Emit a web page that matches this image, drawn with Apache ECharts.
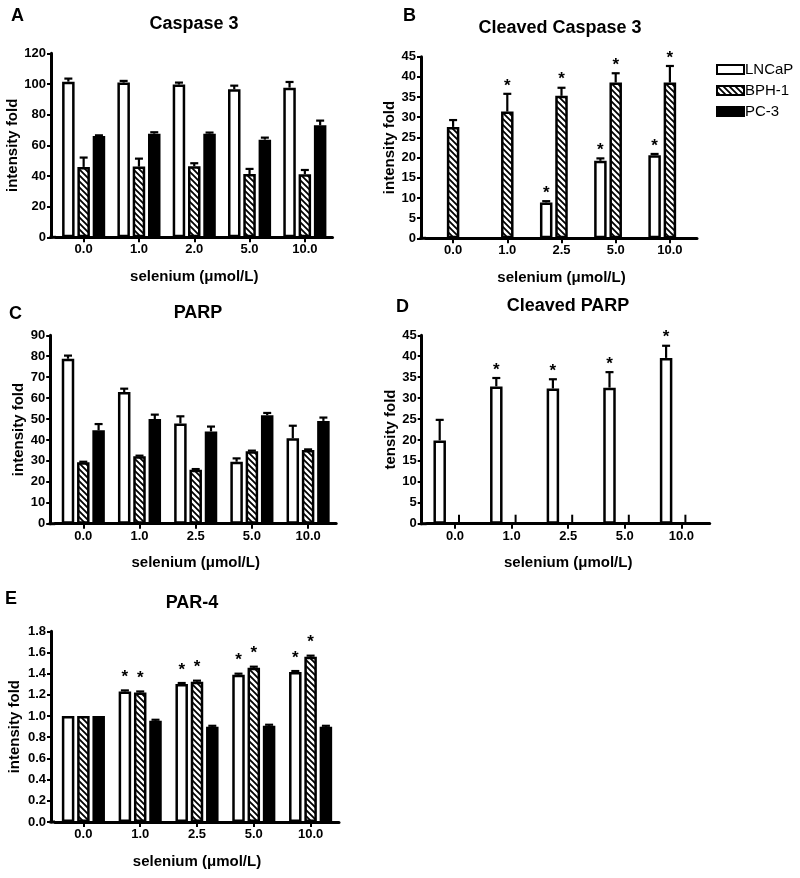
<!DOCTYPE html>
<html>
<head>
<meta charset="utf-8">
<script src="https://cdn.jsdelivr.net/npm/echarts@6/dist/echarts.min.js"></script>
<style>
html,body{margin:0;padding:0;background:#fff;}
#chart{width:800px;height:878px;}
</style>
</head>
<body>
<div id="chart"></div>
<script>
// ---------------- DATA ----------------
const seriesNames = ['LNCaP', 'BPH-1', 'PC-3'];
const categoriesA = ['0.0', '1.0', '2.0', '5.0', '10.0'];
const categoriesB = ['0.0', '1.0', '2.5', '5.0', '10.0'];
const categoriesC = ['0.0', '1.0', '2.5', '5.0', '10.0'];
const categoriesD = ['0.0', '1.0', '2.5', '5.0', '10.0'];
const categoriesE = ['0.0', '1.0', '2.5', '5.0', '10.0'];

// A: Caspase 3
const aLNCaP = [101.5, 100.9, 99.6, 96.5, 97.6];
const aLNCaPErr = [2.0, 1.1, 1.3, 2.4, 3.7];
const aBPH = [45.9, 46.1, 46.3, 41.3, 41.1];
const aBPHErr = [6.1, 5.2, 2.0, 3.3, 2.8];
const aPC3 = [66.1, 67.6, 67.6, 63.7, 73.0];
const aPC3Err = [0.4, 0.9, 0.7, 1.3, 3.1];

// B: Cleaved Caspase 3
const bLNCaP = [null, null, 8.9, 19.2, 20.6];
const bLNCaPErr = [0, 0, 0.3, 0.6, 0.3];
const bLNCaPStar = [0, 0, 1, 1, 1];
const bBPH = [27.6, 31.4, 35.3, 38.6, 38.6];
const bBPHErr = [1.7, 4.4, 2.0, 2.3, 4.1];
const bBPHStar = [0, 1, 1, 1, 1];
const bPC3 = [null, null, null, null, null];

// C: PARP
const cLNCaP = [78.8, 62.9, 47.9, 29.6, 40.8];
const cLNCaPErr = [1.5, 1.6, 3.4, 1.6, 6.0];
const cBPH = [29.3, 32.2, 25.8, 34.6, 35.2];
const cBPHErr = [0.3, 0.3, 0.3, 0.3, 0.3];
const cPC3 = [44.6, 50.0, 44.1, 51.8, 49.1];
const cPC3Err = [3.0, 2.1, 2.3, 1.1, 1.6];

// D: Cleaved PARP
const dLNCaP = [19.9, 32.8, 32.3, 32.5, 39.6];
const dLNCaPErr = [4.9, 2.0, 2.2, 3.7, 2.9];
const dLNCaPStar = [0, 1, 1, 1, 1];

// E: PAR-4
const eLNCaP = [1.0, 1.232, 1.302, 1.390, 1.415];
const eLNCaPErr = [0, 0.01, 0.01, 0.01, 0.01];
const eLNCaPStar = [0, 1, 1, 1, 1];
const eBPH = [1.0, 1.222, 1.324, 1.456, 1.560];
const eBPHErr = [0, 0.01, 0.01, 0.01, 0.01];
const eBPHStar = [0, 1, 1, 1, 1];
const ePC3 = [1.0, 0.955, 0.898, 0.908, 0.898];
const ePC3Err = [0, 0.01, 0.01, 0.01, 0.01];

// ---------------- STYLE ----------------
const FONT = '"Liberation Sans", Arial, Helvetica, sans-serif';
const BAR_W = 12.5;          // outer bar width incl. border
const STEP = 15.3;           // centre-to-centre distance of bars in a group
const BAR_GAP = STEP / BAR_W - 1;

function hatchCanvas() {
  const c = document.createElement('canvas');
  c.width = 6; c.height = 6;
  const g = c.getContext('2d');
  g.fillStyle = '#fff';
  g.fillRect(0, 0, 6, 6);
  g.strokeStyle = '#000';
  g.lineWidth = 1.8;
  g.beginPath();
  g.moveTo(-1, -1); g.lineTo(7, 7);
  g.moveTo(-1, 5); g.lineTo(1, 7);
  g.moveTo(5, -1); g.lineTo(7, 1);
  g.stroke();
  return c;
}
const hatch = { image: hatchCanvas(), repeat: 'repeat' };

const fills = ['#ffffff', hatch, '#000000'];

const grids = [
  { left: 56, top: 53.3, width: 276.5, height: 184, yOff: 5, starGap: 7 },    // A
  { left: 426, top: 56.7, width: 271, height: 181.6, yOff: 5, starGap: 8 },   // B
  { left: 55.2, top: 335.3, width: 281, height: 188.4, yOff: 5, starGap: 7 }, // C
  { left: 426.7, top: 335.3, width: 283, height: 188.4, yOff: 5, starGap: 8 },// D
  { left: 55, top: 631.3, width: 284, height: 190.7, yOff: 4, starGap: 13 }   // E
];
const yNameGaps = [29, 22, 24, 22, 29];
const yNames = ['intensity fold', 'intensity fold', 'intensity fold', 'tensity fold', 'intensity fold'];
const yRanges = [[0, 120, 20], [0, 45, 5], [0, 90, 10], [0, 45, 5], [0, 1.8, 0.2]];
const cats = [categoriesA, categoriesB, categoriesC, categoriesD, categoriesE];

const axisLineStyle = { color: '#000', width: 3 };

const xAxes = [];
const yAxes = [];
grids.forEach((g, i) => {
  xAxes.push({
    type: 'category', gridIndex: i, data: cats[i], position: 'bottom',
    axisLine: { lineStyle: axisLineStyle },
    axisTick: { show: true, alignWithLabel: true, length: 5, lineStyle: { color: '#000', width: 2 } },
    axisLabel: { color: '#000', fontFamily: FONT, fontWeight: 'bold', fontSize: 13, margin: 6 },
    name: 'selenium (\u03bcmol/L)', nameLocation: 'middle', nameGap: 32,
    nameTextStyle: { color: '#000', fontFamily: FONT, fontWeight: 'bold', fontSize: 15 }
  });
  yAxes.push({
    type: 'value', gridIndex: i, min: yRanges[i][0], max: yRanges[i][1], interval: yRanges[i][2],
    offset: g.yOff,
    axisLine: { show: true, lineStyle: axisLineStyle },
    axisTick: { show: true, length: 4, lineStyle: { color: '#000', width: 2 } },
    splitLine: { show: false },
    axisLabel: {
      color: '#000', fontFamily: FONT, fontWeight: 'bold', fontSize: 13, margin: 5,
      formatter: i === 4 ? (v => v.toFixed(1)) : (v => String(v))
    },
    name: yNames[i], nameLocation: 'middle', nameGap: yNameGaps[i],
    nameTextStyle: { color: '#000', fontFamily: FONT, fontWeight: 'bold', fontSize: 15 }
  });
});

function errRender(seriesIdx, starGap) {
  const off = (seriesIdx - 1) * STEP;
  return function (params, api) {
    const v = api.value(1);
    if (v === null || v === undefined || isNaN(v)) return null;
    const e = api.value(2);
    const star = api.value(3);
    const base = api.coord([api.value(0), v]);
    const top = api.coord([api.value(0), v + e]);
    const x = base[0] + off;
    const children = [];
    if (e > 0) {
      children.push({ type: 'line', shape: { x1: x, y1: base[1], x2: x, y2: top[1] }, style: { stroke: '#000', lineWidth: 2.2 } });
      children.push({ type: 'line', shape: { x1: x - 4, y1: top[1], x2: x + 4, y2: top[1] }, style: { stroke: '#000', lineWidth: 2.2 } });
    }
    if (star) {
      children.push({ type: 'text', x: x, y: top[1] - starGap,
        style: { text: '*', fill: '#000', font: 'bold 17px ' + FONT, align: 'center', verticalAlign: 'middle' } });
    }
    return { type: 'group', children: children };
  };
}

const series = [];
function addPanel(gi, xi, vals, errs, stars) {
  for (let s = 0; s < 3; s++) {
    series.push({
      type: 'bar', name: seriesNames[s], xAxisIndex: xi, yAxisIndex: gi,
      data: vals[s], barWidth: BAR_W, barGap: (BAR_GAP * 100).toFixed(1) + '%',
      itemStyle: { color: fills[s], borderColor: '#000', borderWidth: 2.5 },
      silent: true, animation: false
    });
  }
  for (let s = 0; s < 3; s++) {
    if (!errs[s]) continue;
    const data = vals[s].map((v, k) => [k, v, errs[s][k] || 0, stars[s] ? stars[s][k] : 0]);
    series.push({
      type: 'custom', name: seriesNames[s] + ' error', xAxisIndex: xi, yAxisIndex: gi,
      renderItem: errRender(s, grids[gi].starGap), data: data, z: 5, silent: true, animation: false
    });
  }
}
addPanel(0, 0, [aLNCaP, aBPH, aPC3], [aLNCaPErr, aBPHErr, aPC3Err], [null, null, null]);
addPanel(1, 1, [bLNCaP, bBPH, bPC3], [bLNCaPErr, bBPHErr, null], [bLNCaPStar, bBPHStar, null]);
addPanel(2, 2, [cLNCaP, cBPH, cPC3], [cLNCaPErr, cBPHErr, cPC3Err], [null, null, null]);
addPanel(3, 3, [dLNCaP, [null, null, null, null, null], [null, null, null, null, null]], [dLNCaPErr, null, null], [dLNCaPStar, null, null]);
addPanel(4, 4, [eLNCaP, eBPH, ePC3], [eLNCaPErr, eBPHErr, ePC3Err], [eLNCaPStar, eBPHStar, null]);

// short inward tick marks on panel D's x axis (one per category)
series.push({
  type: 'custom', name: 'D inner ticks', xAxisIndex: 3, yAxisIndex: 3,
  data: categoriesD.map((c, k) => [k, 0]),
  renderItem: function (params, api) {
    const p = api.coord([api.value(0), 0]);
    return { type: 'line', shape: { x1: p[0] + 4, y1: p[1], x2: p[0] + 4, y2: p[1] - 9 },
      style: { stroke: '#000', lineWidth: 2 } };
  },
  z: 5, silent: true, animation: false
});

const titleStyle = { color: '#000', fontFamily: FONT, fontWeight: 'bold', fontSize: 18 };
const titles = [
  { text: 'A', left: 11, top: 7 },
  { text: 'Caspase 3', left: 194, top: 15, textAlign: 'center' },
  { text: 'B', left: 403, top: 7 },
  { text: 'Cleaved Caspase 3', left: 560, top: 19, textAlign: 'center' },
  { text: 'C', left: 9, top: 305 },
  { text: 'PARP', left: 198, top: 304, textAlign: 'center' },
  { text: 'D', left: 396, top: 298 },
  { text: 'Cleaved PARP', left: 568, top: 297, textAlign: 'center' },
  { text: 'E', left: 5, top: 590 },
  { text: 'PAR-4', left: 192, top: 594, textAlign: 'center' }
].map(t => Object.assign({ padding: 0, textStyle: titleStyle }, t));

// corner connectors between offset y-axis and x-axis line
const graphics = grids.map(g => ({
  type: 'line', silent: true,
  shape: { x1: g.left - g.yOff - 1.5, y1: g.top + g.height, x2: g.left, y2: g.top + g.height },
  style: { stroke: '#000', lineWidth: 3 }
}));

const option = {
  animation: false,
  backgroundColor: '#fff',
  title: titles,
  grid: grids.map(g => ({ left: g.left, top: g.top, width: g.width, height: g.height, containLabel: false })),
  xAxis: xAxes,
  yAxis: yAxes,
  legend: {
    orient: 'vertical', left: 716, top: 62, padding: 0, itemWidth: 27, itemHeight: 9, itemGap: 6,
    icon: 'rect', selectedMode: false,
    textStyle: { color: '#000', fontFamily: FONT, fontSize: 15, padding: [0, 0, 0, -4] },
    data: [
      { name: 'LNCaP', itemStyle: { color: '#fff', borderColor: '#000', borderWidth: 2 } },
      { name: 'BPH-1', itemStyle: { color: hatch, borderColor: '#000', borderWidth: 2 } },
      { name: 'PC-3', itemStyle: { color: '#000', borderColor: '#000', borderWidth: 2 } }
    ]
  },
  graphic: graphics,
  series: series
};

const chart = echarts.init(document.getElementById('chart'), null, { renderer: 'canvas' });
chart.setOption(option);
</script>
</body>
</html>
